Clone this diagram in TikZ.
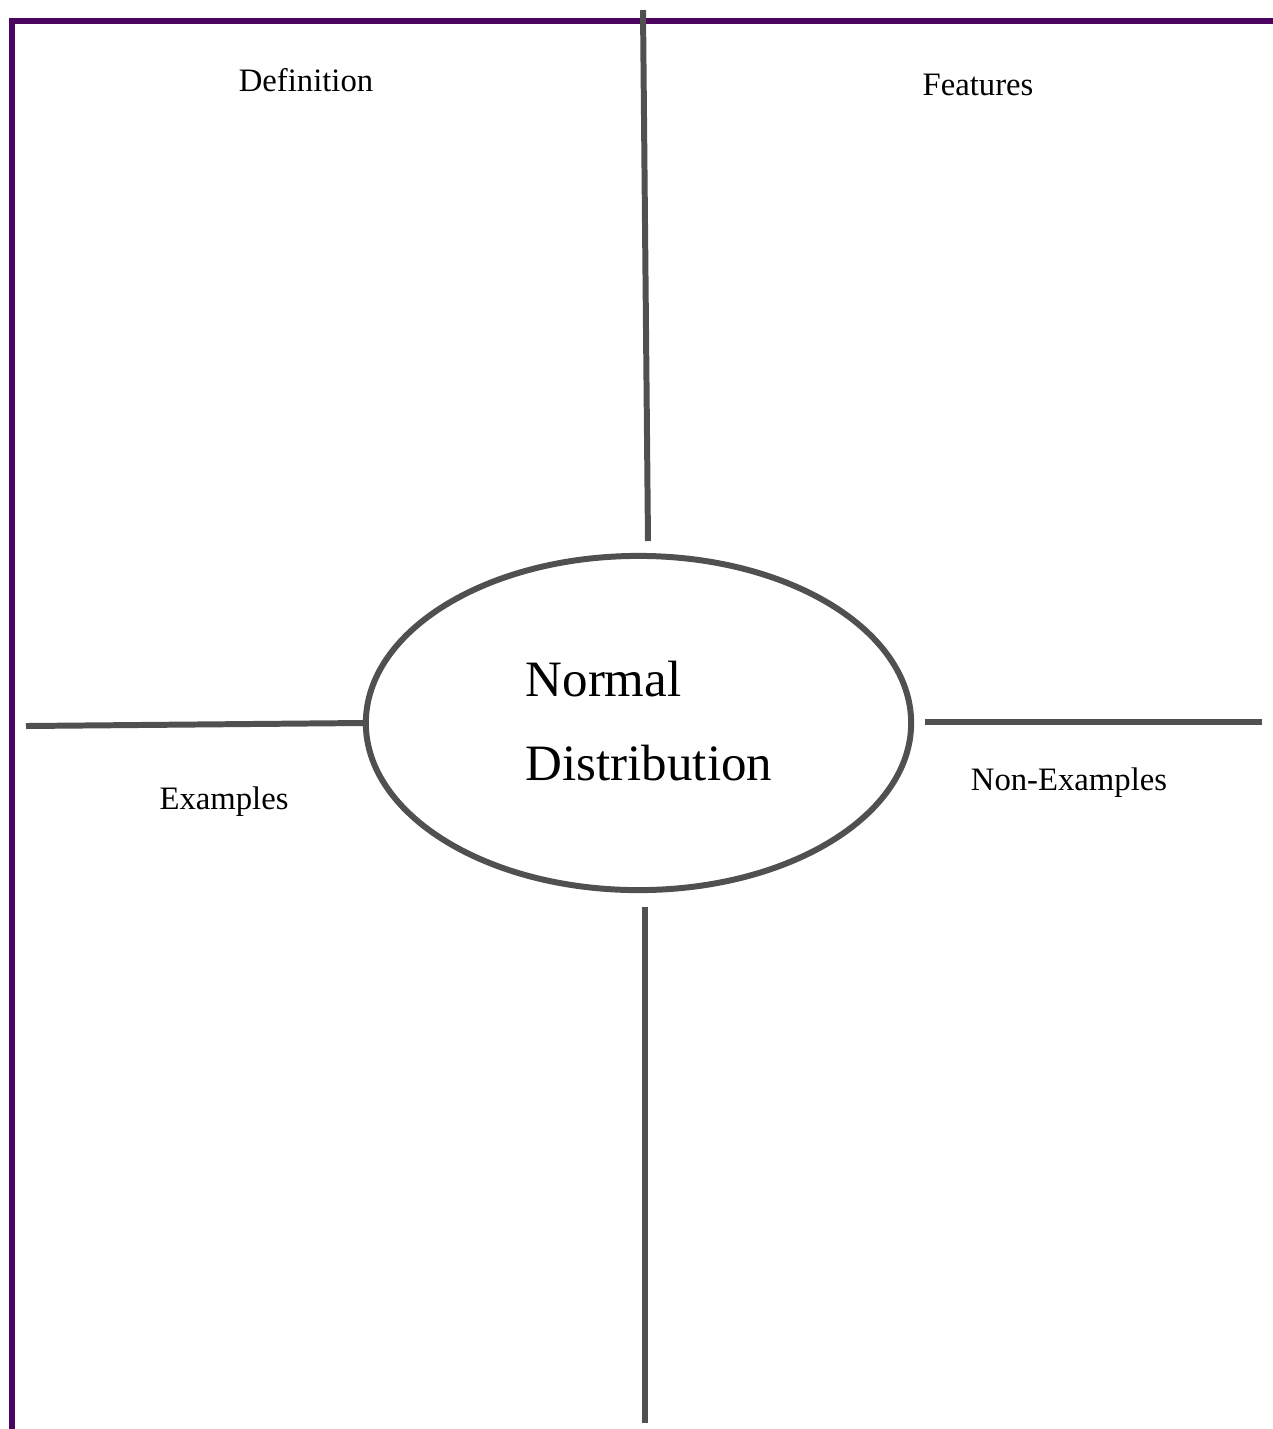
\documentclass[tikz,border=0pt]{standalone}
\usepackage{fontspec}
\setmainfont{Liberation Serif}
\usetikzlibrary{shapes.geometric}
\definecolor{framepurple}{RGB}{76,4,96}
\definecolor{linegray}{RGB}{80,80,80}

\begin{document}
\begin{tikzpicture}[x=0.01cm,y=-0.01cm,
    frame/.style={draw=framepurple,line width=1.7pt,line join=miter},
    bar/.style={draw=linegray,line width=1.7pt},
    label/.style={anchor=base,inner sep=0pt,font=\fontsize{9.3}{11}\selectfont}]
    \useasboundingbox (0,0) rectangle (1273,1429);
    % frame
    \draw[frame] (12,1429) -- (12,20.5) -- (1273,20.5);
    % centre
    \node[ellipse,bar,minimum width=5.45cm,minimum height=3.34cm,inner sep=0pt] (topic) at (638.5,723) {};
    \node[anchor=west,align=left,inner sep=0pt,font=\fontsize{14.5}{23.8}\selectfont] (title) at (525,721) {Normal\\Distribution};
    % arms
    \coordinate (deftop) at (643,10);
    \coordinate (defbot) at (648,541);
    \coordinate (exleft) at (26,726);
    \coordinate (nonleft) at (925,722);
    \coordinate (nonright) at (1262,722);
    \coordinate (bottop) at (645,907);
    \coordinate (botbot) at (645,1423);
    \draw[bar] (deftop) -- (defbot);
    \draw[bar] (exleft) -- (topic.west);
    \draw[bar] (nonleft) -- (nonright);
    \draw[bar] (bottop) -- (botbot);
    % labels
    \node[label] (definition) at (306,91) {Definition};
    \node[label] (features) at (978,95) {Features};
    \node[label] (examples) at (224,809) {Examples};
    \node[label] (nonexamples) at (1069,790) {Non-Examples};
  \end{tikzpicture}
\end{document}
